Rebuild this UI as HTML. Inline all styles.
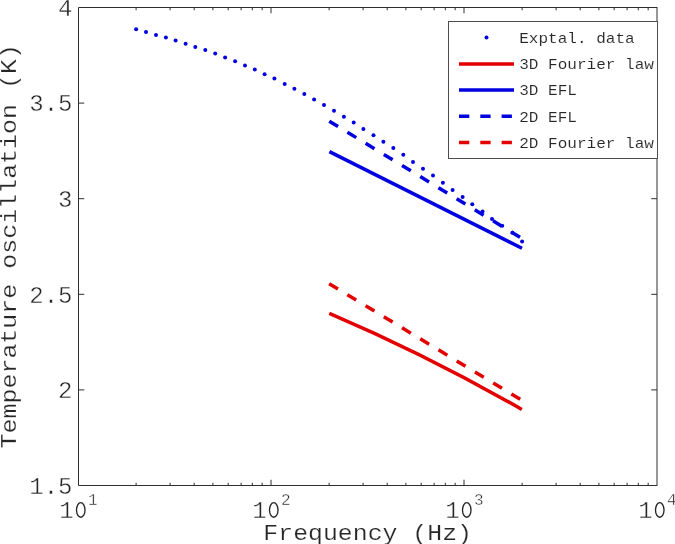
<!DOCTYPE html>
<html><head><meta charset="utf-8"><style>
html,body{margin:0;padding:0;background:#fff;width:675px;height:544px;overflow:hidden}
svg{display:block;font-family:"Liberation Mono",monospace}
text{stroke:#fff;paint-order:normal}
.tk{stroke-width:0.4px}.lb{stroke-width:0.2px}.lg{stroke-width:0.1px}
svg{will-change:transform}
</style></head><body>
<svg width="675" height="544" viewBox="0 0 675 544">
<rect width="675" height="544" fill="#fff"/>
<path d="M136.10 485.5v-2.75M136.10 7.5v2.75M170.08 485.5v-2.75M170.08 7.5v2.75M194.20 485.5v-2.75M194.20 7.5v2.75M212.90 485.5v-2.75M212.90 7.5v2.75M228.18 485.5v-2.75M228.18 7.5v2.75M241.10 485.5v-2.75M241.10 7.5v2.75M252.30 485.5v-2.75M252.30 7.5v2.75M262.17 485.5v-2.75M262.17 7.5v2.75M271.00 485.5v-5.75M271.00 7.5v5.75M329.10 485.5v-2.75M329.10 7.5v2.75M363.08 485.5v-2.75M363.08 7.5v2.75M387.20 485.5v-2.75M387.20 7.5v2.75M405.90 485.5v-2.75M405.90 7.5v2.75M421.18 485.5v-2.75M421.18 7.5v2.75M434.10 485.5v-2.75M434.10 7.5v2.75M445.30 485.5v-2.75M445.30 7.5v2.75M455.17 485.5v-2.75M455.17 7.5v2.75M464.00 485.5v-5.75M464.00 7.5v5.75M522.10 485.5v-2.75M522.10 7.5v2.75M556.08 485.5v-2.75M556.08 7.5v2.75M580.20 485.5v-2.75M580.20 7.5v2.75M598.90 485.5v-2.75M598.90 7.5v2.75M614.18 485.5v-2.75M614.18 7.5v2.75M627.10 485.5v-2.75M627.10 7.5v2.75M638.30 485.5v-2.75M638.30 7.5v2.75M648.17 485.5v-2.75M648.17 7.5v2.75M78.5 103.10h5.75M657 103.10h-5.75M78.5 198.70h5.75M657 198.70h-5.75M78.5 294.30h5.75M657 294.30h-5.75M78.5 389.90h5.75M657 389.90h-5.75" stroke="#2e2e2e" stroke-width="1" fill="none"/>
<path d="M657 7.5H78.5V485.5H657" fill="none" stroke="#2e2e2e" stroke-width="1"/><path d="M657 7V486" stroke="#2e2e2e" stroke-width="1"/>
<path d="M329.3 313.35Q425.55 354.35 521.8 409.4" stroke="#e30000" stroke-width="3.5" fill="none"/>
<path d="M329.15 283.70 L522.00 400.37" stroke="#e30000" stroke-width="3.5" fill="none" stroke-dasharray="10.3 11.0"/>
<path d="M329.40 151.60 L522.00 248.20" stroke="#0000e0" stroke-width="3.5" fill="none"/>
<path d="M329.25 121.20 L522.00 238.51" stroke="#0000e0" stroke-width="3.5" fill="none" stroke-dasharray="10.3 11.0"/>
<circle cx="136.1" cy="29.2" r="2.0" fill="#0000e0"/>
<circle cx="146.0" cy="31.9" r="2.0" fill="#0000e0"/>
<circle cx="156.0" cy="34.9" r="2.0" fill="#0000e0"/>
<circle cx="165.9" cy="37.5" r="2.0" fill="#0000e0"/>
<circle cx="175.6" cy="40.5" r="2.0" fill="#0000e0"/>
<circle cx="185.6" cy="43.7" r="2.0" fill="#0000e0"/>
<circle cx="195.3" cy="46.9" r="2.0" fill="#0000e0"/>
<circle cx="205.3" cy="50.0" r="2.0" fill="#0000e0"/>
<circle cx="215.2" cy="53.4" r="2.0" fill="#0000e0"/>
<circle cx="225.1" cy="57.4" r="2.0" fill="#0000e0"/>
<circle cx="235.1" cy="61.2" r="2.0" fill="#0000e0"/>
<circle cx="245.0" cy="65.4" r="2.0" fill="#0000e0"/>
<circle cx="254.8" cy="69.6" r="2.0" fill="#0000e0"/>
<circle cx="264.6" cy="74.3" r="2.0" fill="#0000e0"/>
<circle cx="274.4" cy="78.6" r="2.0" fill="#0000e0"/>
<circle cx="284.7" cy="83.9" r="2.0" fill="#0000e0"/>
<circle cx="294.4" cy="88.8" r="2.0" fill="#0000e0"/>
<circle cx="304.3" cy="94.1" r="2.0" fill="#0000e0"/>
<circle cx="314.1" cy="99.6" r="2.0" fill="#0000e0"/>
<circle cx="324.0" cy="105.1" r="2.0" fill="#0000e0"/>
<circle cx="334.0" cy="110.8" r="2.0" fill="#0000e0"/>
<circle cx="343.9" cy="116.8" r="2.0" fill="#0000e0"/>
<circle cx="353.7" cy="122.5" r="2.0" fill="#0000e0"/>
<circle cx="363.4" cy="128.9" r="2.0" fill="#0000e0"/>
<circle cx="373.5" cy="135.3" r="2.0" fill="#0000e0"/>
<circle cx="383.4" cy="141.7" r="2.0" fill="#0000e0"/>
<circle cx="393.3" cy="148.1" r="2.0" fill="#0000e0"/>
<circle cx="403.3" cy="154.8" r="2.0" fill="#0000e0"/>
<circle cx="413.0" cy="161.9" r="2.0" fill="#0000e0"/>
<circle cx="423.0" cy="168.7" r="2.0" fill="#0000e0"/>
<circle cx="433.0" cy="175.6" r="2.0" fill="#0000e0"/>
<circle cx="442.9" cy="182.7" r="2.0" fill="#0000e0"/>
<circle cx="452.6" cy="189.9" r="2.0" fill="#0000e0"/>
<circle cx="462.6" cy="197.1" r="2.0" fill="#0000e0"/>
<circle cx="472.3" cy="204.2" r="2.0" fill="#0000e0"/>
<circle cx="482.5" cy="211.4" r="2.0" fill="#0000e0"/>
<circle cx="492.0" cy="218.9" r="2.0" fill="#0000e0"/>
<circle cx="502.2" cy="225.8" r="2.0" fill="#0000e0"/>
<circle cx="512.4" cy="232.7" r="2.0" fill="#0000e0"/>
<circle cx="522.1" cy="241.4" r="2.0" fill="#0000e0"/>
<rect x="448.5" y="21.5" width="209.0" height="137.0" fill="#fff" stroke="#4d4d4d" stroke-width="1"/>
<circle cx="486.5" cy="37.5" r="2.0" fill="#0000e0"/>
<path d="M459.0 63.90H514.0" stroke="#e30000" stroke-width="3.5"/>
<path d="M459.0 90.10H514.0" stroke="#0000e0" stroke-width="3.5"/>
<path d="M459.0 116.30H514.0" stroke="#0000e0" stroke-width="3.5" stroke-dasharray="10.3 11.0"/>
<path d="M459.0 142.50H514.0" stroke="#e30000" stroke-width="3.5" stroke-dasharray="10.3 11.0"/>
<text class="lg" x="519.2" y="42.90" font-size="14.5" fill="#262626" textLength="115.56" lengthAdjust="spacingAndGlyphs" xml:space="preserve">Exptal. data</text>
<text class="lg" x="519.2" y="69.10" font-size="14.5" fill="#262626" textLength="134.82" lengthAdjust="spacingAndGlyphs" xml:space="preserve">3D Fourier law</text>
<text class="lg" x="519.2" y="95.30" font-size="14.5" fill="#262626" textLength="57.78" lengthAdjust="spacingAndGlyphs" xml:space="preserve">3D EFL</text>
<text class="lg" x="519.2" y="121.50" font-size="14.5" fill="#262626" textLength="57.78" lengthAdjust="spacingAndGlyphs" xml:space="preserve">2D EFL</text>
<text class="lg" x="519.2" y="147.70" font-size="14.5" fill="#262626" textLength="134.82" lengthAdjust="spacingAndGlyphs" xml:space="preserve">2D Fourier law</text>
<text class="tk" x="72.5" y="15.80" font-size="24" fill="#262626" text-anchor="end">4</text>
<text class="tk" x="72.5" y="111.40" font-size="24" fill="#262626" text-anchor="end">3.5</text>
<text class="tk" x="72.5" y="207.00" font-size="24" fill="#262626" text-anchor="end">3</text>
<text class="tk" x="72.5" y="302.60" font-size="24" fill="#262626" text-anchor="end">2.5</text>
<text class="tk" x="72.5" y="398.20" font-size="24" fill="#262626" text-anchor="end">2</text>
<text class="tk" x="72.5" y="493.80" font-size="24" fill="#262626" text-anchor="end">1.5</text>
<text class="tk" x="78.50" y="517.5" font-size="24" fill="#262626" text-anchor="middle" xml:space="preserve">1 <tspan font-size="16" dy="-13">1</tspan></text>
<ellipse cx="80.75" cy="509.95" rx="4.25" ry="7.3" fill="none" stroke="#262626" stroke-width="1.35"/>
<text class="tk" x="271.50" y="517.5" font-size="24" fill="#262626" text-anchor="middle" xml:space="preserve">1 <tspan font-size="16" dy="-13">2</tspan></text>
<ellipse cx="273.75" cy="509.95" rx="4.25" ry="7.3" fill="none" stroke="#262626" stroke-width="1.35"/>
<text class="tk" x="464.50" y="517.5" font-size="24" fill="#262626" text-anchor="middle" xml:space="preserve">1 <tspan font-size="16" dy="-13">3</tspan></text>
<ellipse cx="466.75" cy="509.95" rx="4.25" ry="7.3" fill="none" stroke="#262626" stroke-width="1.35"/>
<text class="tk" x="657.50" y="517.5" font-size="24" fill="#262626" text-anchor="middle" xml:space="preserve">1 <tspan font-size="16" dy="-13">4</tspan></text>
<ellipse cx="659.75" cy="509.95" rx="4.25" ry="7.3" fill="none" stroke="#262626" stroke-width="1.35"/>
<text class="lb" x="263.35" y="539.8" font-size="21.5" fill="#262626" textLength="208.60" lengthAdjust="spacingAndGlyphs" xml:space="preserve">Frequency (Hz)</text>
<text class="lb" transform="translate(16.4 448.5) rotate(-90)" font-size="21.5" fill="#262626" textLength="404.46" lengthAdjust="spacingAndGlyphs" xml:space="preserve">Temperature oscillation (K)</text>
</svg>
</body></html>
